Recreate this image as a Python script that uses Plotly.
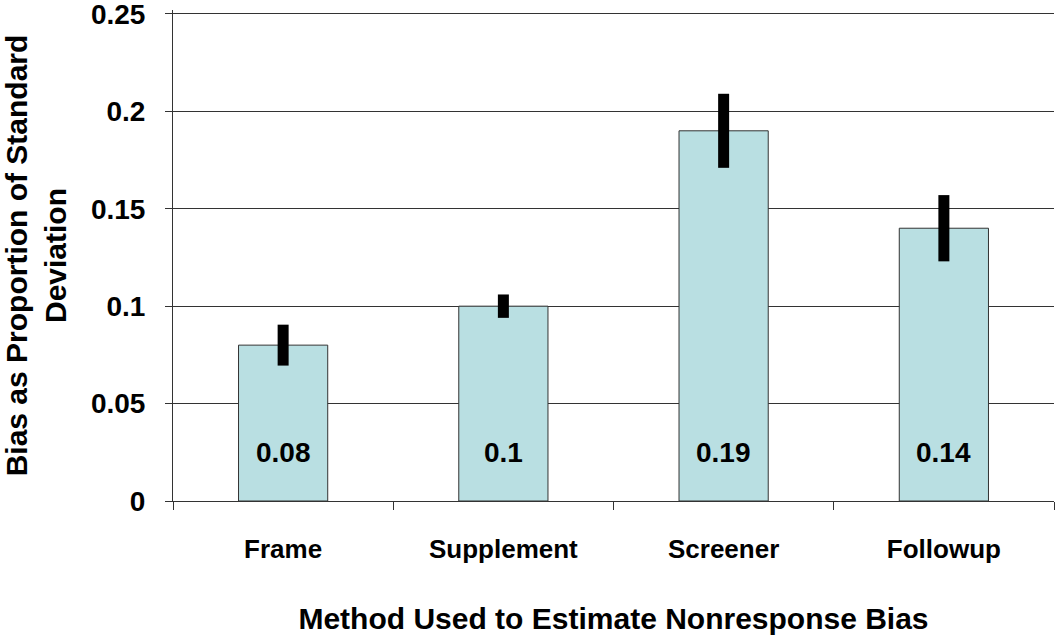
import plotly.graph_objects as go

categories = ["Frame", "Supplement", "Screener", "Followup"]
values = [0.08, 0.10, 0.19, 0.14]
errors = [0.0105, 0.006, 0.019, 0.017]
value_labels = ["0.08", "0.1", "0.19", "0.14"]
y_ticks = [0, 0.05, 0.1, 0.15, 0.2, 0.25]
y_ticktext = ["0", "0.05", "0.1", "0.15", "0.2", "0.25"]

xpos = list(range(len(categories)))
FONT = "Liberation Sans, Arial, sans-serif"

fig = go.Figure()
fig.add_trace(go.Bar(
    x=xpos, y=values, width=0.405,
    marker=dict(color="#b9dfe2", line=dict(color="#333333", width=1)),
    showlegend=False,
))
# thick error bars (no caps)
for x, v, e in zip(xpos, values, errors):
    fig.add_trace(go.Scatter(
        x=[x, x], y=[v - e, v + e], mode="lines",
        line=dict(color="black", width=11), showlegend=False, hoverinfo="skip",
    ))

for x, lab in zip(xpos, value_labels):
    fig.add_annotation(x=x, y=0.025, text="<b>%s</b>" % lab, showarrow=False,
                       font=dict(size=28, color="black", family=FONT))

fig.update_layout(
    width=1056, height=643,
    margin=dict(l=173, r=2, t=10, b=142),
    plot_bgcolor="white", paper_bgcolor="white",
    font=dict(family=FONT, color="black"),
    xaxis=dict(
        range=[-0.5, 3.5], tickmode="array", tickvals=xpos,
        ticktext=["<b>%s</b>" % c for c in categories],
        tickfont=dict(size=26, family=FONT), ticks="", showgrid=False,
        ticklabelstandoff=25, ticklabeloverflow="allow",
        showline=True, linecolor="#333333", linewidth=1,
        minor=dict(tickmode="array", tickvals=[-0.5, 0.5, 1.5, 2.5, 3.5],
                   ticks="outside", ticklen=8, tickcolor="#333333", showgrid=False),
        title=dict(text="<b>Method Used to Estimate Nonresponse Bias</b>",
                   font=dict(size=30, family=FONT), standoff=44),
        zeroline=False, automargin=False,
    ),
    yaxis=dict(
        range=[0, 0.252], tickmode="array", tickvals=y_ticks,
        ticktext=["<b>%s</b>" % t for t in y_ticktext],
        tickfont=dict(size=28, family=FONT),
        ticks="outside", ticklen=7, tickcolor="#333333",
        ticklabelstandoff=14, ticklabeloverflow="allow",
        showgrid=True, gridcolor="#333333", gridwidth=1,
        showline=True, linecolor="#333333", linewidth=1,
        zeroline=False, automargin=False,
        title=dict(text="<b>Bias as Proportion of Standard<br>Deviation</b>",
                   font=dict(size=30, family=FONT), standoff=23),
    ),
)

fig.write_html("out.html", config={"displayModeBar": False},
               post_script="document.body.style.margin='0';")
